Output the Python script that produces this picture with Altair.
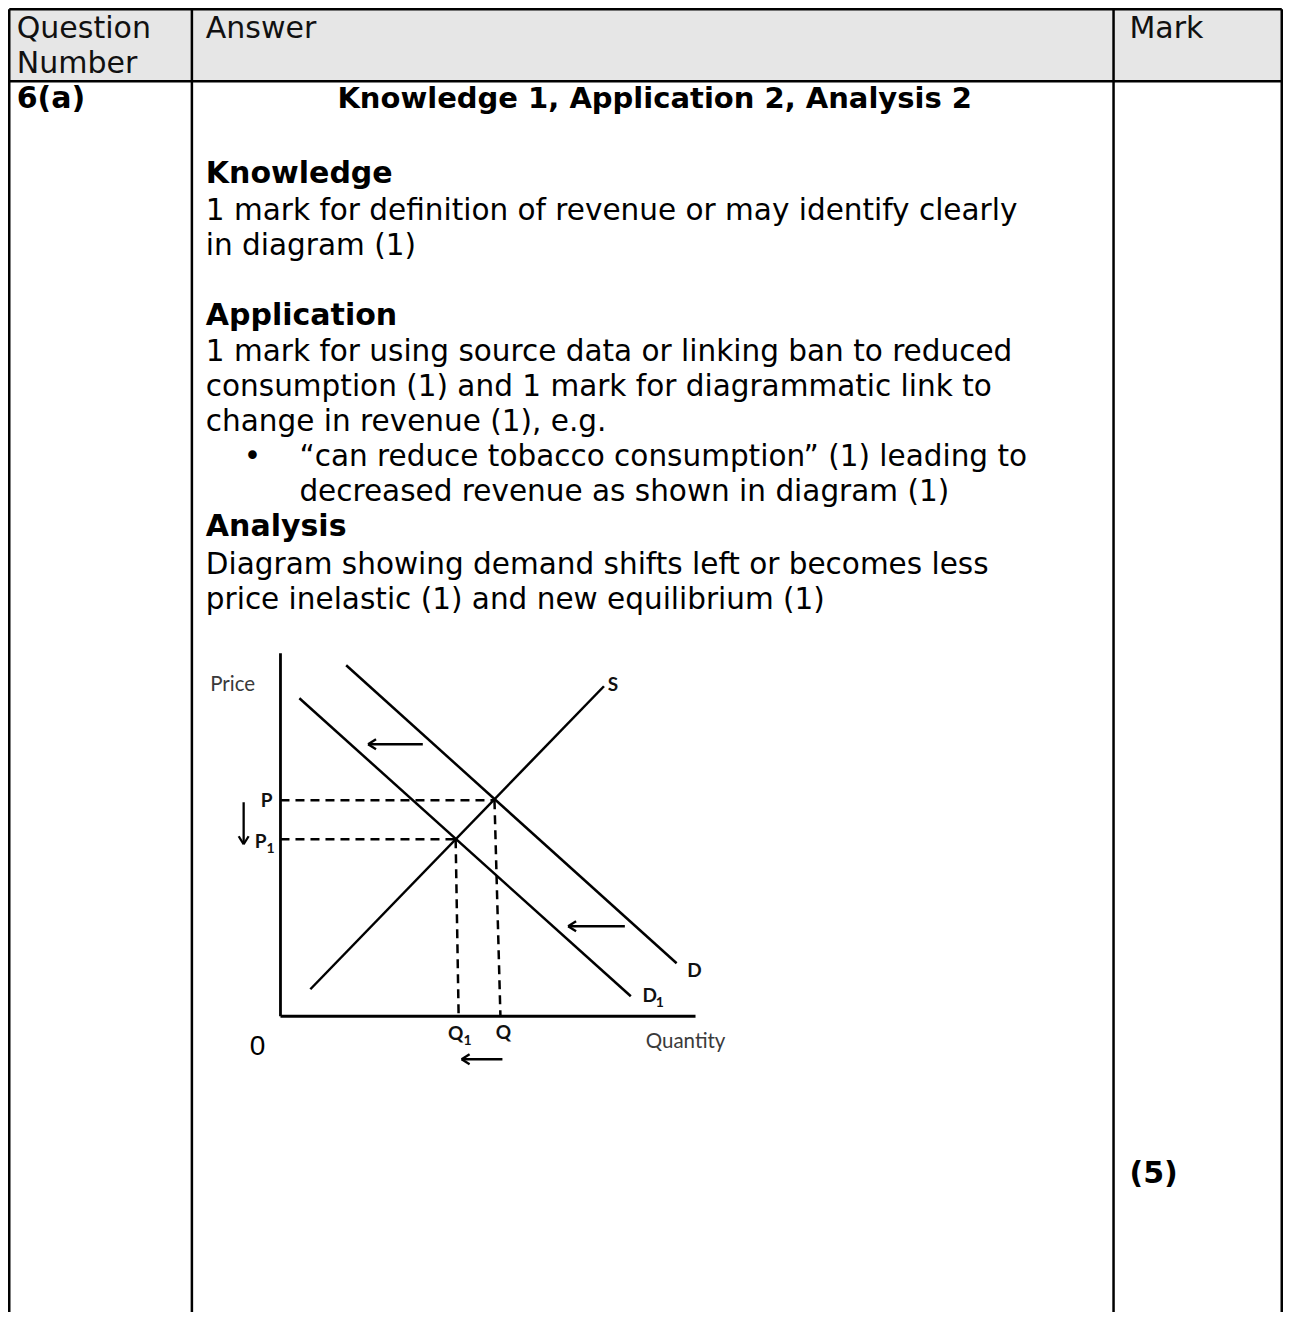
import altair as alt
import pandas as pd

# ---------------- table layout (reference pixel space) ----------------
col_x = [6.5, 190, 1116, 1285]        # vertical rules
row_y = [7, 79]                        # horizontal rules
table_bottom = 1326

header_texts = ["Question", "Number", "Answer", "Mark"]
header_x = [14, 14, 204, 1132]
header_y = [27, 62, 27, 27]

body_bold_texts = ["6(a)", "Knowledge", "Application", "Analysis", "(5)"]
body_bold_x = [14, 204, 204, 204, 1132]
body_bold_y = [97, 172, 314, 525, 1172]

title_text = ["Knowledge 1, Application 2, Analysis 2"]
title_x = [655]
title_y = [97]

body_texts = [
    "1 mark for definition of revenue or may identify clearly",
    "in diagram (1)",
    "1 mark for using source data or linking ban to reduced",
    "consumption (1) and 1 mark for diagrammatic link to",
    "change in revenue (1), e.g.",
    "\u2022",
    "\u201ccan reduce tobacco consumption\u201d (1) leading to",
    "decreased revenue as shown in diagram (1)",
    "Diagram showing demand shifts left or becomes less",
    "price inelastic (1) and new equilibrium (1)",
]
body_x = [204, 204, 204, 204, 204, 242, 298, 298, 204, 204]
body_y = [209, 244, 350, 385, 420, 455, 455, 490, 563, 598]

# ---------------- diagram (quantity right, price up; origin of axes) --------
origin = (279, 1014)
axis_q_max = 417
axis_p_max = 363

D_q = [66, 398];   D_p = [351, 53]
D1_q = [19, 352];  D1_p = [318, 20]
S_q = [30, 325];   S_p = [27, 330]

eq_q = [215, 176]          # equilibrium quantities Q, Q1 (at the crossing)
eq_p = [216, 177]          # equilibrium prices P, P1
eq_q_floor = [221, 179]    # where the dashed drops meet the quantity axis

arrow_tail_q = [143, 346, 223, -37]
arrow_tail_p = [272, 90, -43, 214]
arrow_tip_q = [88, 289, 182, -37]
arrow_tip_p = [272, 90, -43, 172]

lab_bold = ["S", "P", "P", "D", "D", "Q", "Q"]
lab_bold_q = [334, -14, -20, 416, 371, 176, 224]
lab_bold_p = [331, 215, 174, 45, 20, -18, -17]
lab_sub = ["1", "1", "1"]
lab_sub_q = [-10, 381, 188]
lab_sub_p = [167, 13, -25]
lab_plain = ["Price", "Quantity"]
lab_plain_q = [-48, 407]
lab_plain_p = [331, -26]
zero_lab = ["0"]
zero_q = [-23]
zero_p = [-31]

# ---------------- helpers ----------------
X_DOM = [5.24, 1286.25]
Y_DOM = [5.75, 1309.75]
W, H = 1275, 1304


def px(q):
    return origin[0] + q


def py(p):
    return origin[1] - p


xs = alt.Scale(domain=X_DOM, nice=False, zero=False)
ys = alt.Scale(domain=Y_DOM, nice=False, zero=False, reverse=True)


def enc_pt():
    return dict(x=alt.X("x:Q", scale=xs, axis=None), y=alt.Y("y:Q", scale=ys, axis=None))


def enc_seg():
    return dict(x=alt.X("x:Q", scale=xs, axis=None), y=alt.Y("y:Q", scale=ys, axis=None),
                x2="x2:Q", y2="y2:Q")


# header background
hdr_bg = pd.DataFrame({"x": [col_x[0]], "x2": [col_x[-1]], "y": [row_y[0]], "y2": [row_y[1]]})
layer_bg = alt.Chart(hdr_bg).mark_rect(color="#e6e6e6").encode(**enc_seg())

# table rules
rules = []
for c in col_x:
    rules.append((c, row_y[0], c, table_bottom))
for r in row_y:
    rules.append((col_x[0], r, col_x[-1], r))
rules_df = pd.DataFrame(rules, columns=["x", "y", "x2", "y2"])
layer_rules = alt.Chart(rules_df).mark_rule(color="black", strokeWidth=2.5).encode(**enc_seg())

FONT = "DejaVu Sans"
FS = 29.5

hdr_df = pd.DataFrame({"x": header_x, "y": header_y, "t": header_texts})
layer_hdr = alt.Chart(hdr_df).mark_text(font=FONT, fontSize=30, align="left", baseline="middle",
                                        color="#111").encode(text="t:N", **enc_pt())
bold_df = pd.DataFrame({"x": body_bold_x, "y": body_bold_y, "t": body_bold_texts})
layer_bold = alt.Chart(bold_df).mark_text(font=FONT, fontSize=30, fontWeight="bold", align="left",
                                          baseline="middle", color="black").encode(text="t:N", **enc_pt())
title_df = pd.DataFrame({"x": title_x, "y": title_y, "t": title_text})
layer_title = alt.Chart(title_df).mark_text(font=FONT, fontSize=29, fontWeight="bold", align="center",
                                            baseline="middle", color="black").encode(text="t:N", **enc_pt())
body_df = pd.DataFrame({"x": body_x, "y": body_y, "t": body_texts})
layer_body = alt.Chart(body_df).mark_text(font=FONT, fontSize=FS, align="left", baseline="middle",
                                          color="#000").encode(text="t:N", **enc_pt())

# diagram axes
ax_df = pd.DataFrame({"x": [px(0), px(0)], "y": [py(0), py(0)],
                      "x2": [px(0), px(axis_q_max)], "y2": [py(axis_p_max), py(0)]})
layer_axes = alt.Chart(ax_df).mark_rule(color="black", strokeWidth=2.8).encode(**enc_seg())

# curves
curves = []
for qq, pp in [(D_q, D_p), (D1_q, D1_p), (S_q, S_p)]:
    curves.append((px(qq[0]), py(pp[0]), px(qq[1]), py(pp[1])))
curves_df = pd.DataFrame(curves, columns=["x", "y", "x2", "y2"])
layer_curves = alt.Chart(curves_df).mark_rule(color="black", strokeWidth=2.5).encode(**enc_seg())

# dashed guides
dash = []
for q, p, qf in zip(eq_q, eq_p, eq_q_floor):
    dash.append((px(0), py(p), px(q), py(p)))
    dash.append((px(q), py(p), px(qf), py(0)))
dash_df = pd.DataFrame(dash, columns=["x", "y", "x2", "y2"])
layer_dash = alt.Chart(dash_df).mark_rule(color="black", strokeWidth=2.5, strokeDash=[9, 6]).encode(**enc_seg())

# arrows: shafts + open heads
arr = []
HEAD_L, HEAD_W = 8, 5
for tq, tp, hq, hp in zip(arrow_tail_q, arrow_tail_p, arrow_tip_q, arrow_tip_p):
    x1, y1, x2, y2 = px(tq), py(tp), px(hq), py(hp)
    arr.append((x1, y1, x2, y2))
    dx, dy = x2 - x1, y2 - y1
    n = (dx * dx + dy * dy) ** 0.5
    ux, uy = dx / n, dy / n
    for s in (1, -1):
        arr.append((x2, y2, x2 - ux * HEAD_L - uy * HEAD_W * s, y2 - uy * HEAD_L + ux * HEAD_W * s))
arr_df = pd.DataFrame(arr, columns=["x", "y", "x2", "y2"])
layer_arr = alt.Chart(arr_df).mark_rule(color="black", strokeWidth=2.3).encode(**enc_seg())

DFONT = "Lato"
lb_df = pd.DataFrame({"x": [px(v) for v in lab_bold_q], "y": [py(v) for v in lab_bold_p], "t": lab_bold})
layer_lb = alt.Chart(lb_df).mark_text(font=DFONT, fontSize=19, fontWeight="bold", align="center",
                                      baseline="middle", color="#111").encode(text="t:N", **enc_pt())
ls_df = pd.DataFrame({"x": [px(v) for v in lab_sub_q], "y": [py(v) for v in lab_sub_p], "t": lab_sub})
layer_ls = alt.Chart(ls_df).mark_text(font=DFONT, fontSize=14, fontWeight="bold", align="center",
                                      baseline="middle", color="#111").encode(text="t:N", **enc_pt())
lp_df = pd.DataFrame({"x": [px(v) for v in lab_plain_q], "y": [py(v) for v in lab_plain_p], "t": lab_plain})
layer_lp = alt.Chart(lp_df).mark_text(font=DFONT, fontSize=20.5, align="center",
                                      baseline="middle", color="#3a3a3a").encode(text="t:N", **enc_pt())
z_df = pd.DataFrame({"x": [px(v) for v in zero_q], "y": [py(v) for v in zero_p], "t": zero_lab})
layer_z = alt.Chart(z_df).mark_text(font="Liberation Sans Narrow, Liberation Sans", fontSize=28, align="center",
                                    baseline="middle", color="black").encode(text="t:N", **enc_pt())

chart = alt.layer(
    layer_bg, layer_rules, layer_hdr, layer_bold, layer_title, layer_body,
    layer_axes, layer_curves, layer_dash, layer_arr, layer_lb, layer_ls, layer_lp, layer_z,
).properties(
    width=W, height=H, padding=0, autosize=alt.AutoSizeParams(type="none"),
    background="white",
).configure_view(stroke=None)

chart.save("out.html", embed_options={"renderer": "svg", "actions": False})
